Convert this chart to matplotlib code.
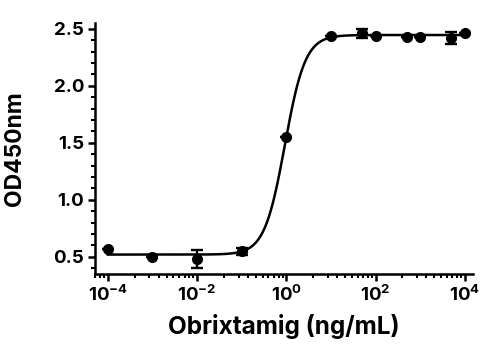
import numpy as np
import matplotlib
matplotlib.use("Agg")
import matplotlib.pyplot as plt
from matplotlib.ticker import FixedLocator, NullFormatter, MultipleLocator

plt.rcParams['font.family'] = ['Inter', 'DejaVu Sans']
plt.rcParams['font.weight'] = 'bold'
plt.rcParams['mathtext.fontset'] = 'custom'
plt.rcParams['mathtext.bf'] = 'Inter:bold'
plt.rcParams['mathtext.rm'] = 'Inter:bold'

# concentration (ng/mL) and OD450 readings
conc = [1e-4, 1e-3, 1e-2, 1e-1, 1, 10, 50, 100, 500, 1000, 5000, 10000]
od = [0.57, 0.50, 0.48, 0.55, 1.55, 2.44, 2.46, 2.44, 2.43, 2.43, 2.42, 2.46]
err = [0.0, 0.0, 0.08, 0.03, 0.0, 0.0, 0.04, 0.0, 0.0, 0.0, 0.05, 0.0]

# 4PL fit parameters
bottom, top, ec50, hill = 0.52, 2.445, 0.93, 1.9

xs = np.logspace(-4, 4, 400)
fit = bottom + (top - bottom) / (1 + (ec50 / xs) ** hill)

fig = plt.figure(figsize=(4.86, 3.49), dpi=100)
ax = fig.add_axes([0.196, 0.215, 0.777, 0.719])

ax.plot(xs, fit, color='black', lw=1.8, zorder=2)
ax.errorbar(conc, od, yerr=err, fmt='o', color='black', ms=7,
            ecolor='black', elinewidth=1.7, capsize=4, capthick=1.7, zorder=3)

ax.set_xscale('log')
ax.set_xlim(10 ** -4.28, 10 ** 4.18)
ax.set_ylim(0.35, 2.55)

ax.xaxis.set_major_locator(FixedLocator([1e-4, 1e-2, 1e0, 1e2, 1e4]))
ax.set_xticklabels(['$\\mathbf{10^{-4}}$', '$\\mathbf{10^{-2}}$', '$\\mathbf{10^{0}}$',
                    '$\\mathbf{10^{2}}$', '$\\mathbf{10^{4}}$'])
# minor ticks inside each two-decade interval
offs = [0.6, 0.93, 1.14, 1.32, 1.47, 1.6, 1.72, 1.83, 1.92]
minor = [10 ** (e + o) for e in range(-6, 4, 2) for o in offs]
ax.xaxis.set_minor_locator(FixedLocator(minor))
ax.xaxis.set_minor_formatter(NullFormatter())

ax.yaxis.set_major_locator(FixedLocator([0.5, 1.0, 1.5, 2.0, 2.5]))
ax.yaxis.set_minor_locator(MultipleLocator(0.1))
ax.set_yticklabels(['0.5', '1.0', '1.5', '2.0', '2.5'])

for s in ['top', 'right']:
    ax.spines[s].set_visible(False)
for s in ['left', 'bottom']:
    ax.spines[s].set_linewidth(1.8)

ax.tick_params(which='major', length=5, width=1.8, labelsize=13.5, pad=3)
ax.tick_params(which='minor', length=3, width=1.5)
plt.setp(ax.get_yticklabels(), fontweight='bold')
plt.setp(ax.get_xticklabels(), fontweight='bold')

ax.set_xlabel('Obrixtamig (ng/mL)', fontsize=17.5, fontweight='bold', labelpad=6)
ax.set_ylabel('OD450nm', fontsize=16.5, fontweight='bold', labelpad=20)

fig.savefig('out.png', dpi=100)
